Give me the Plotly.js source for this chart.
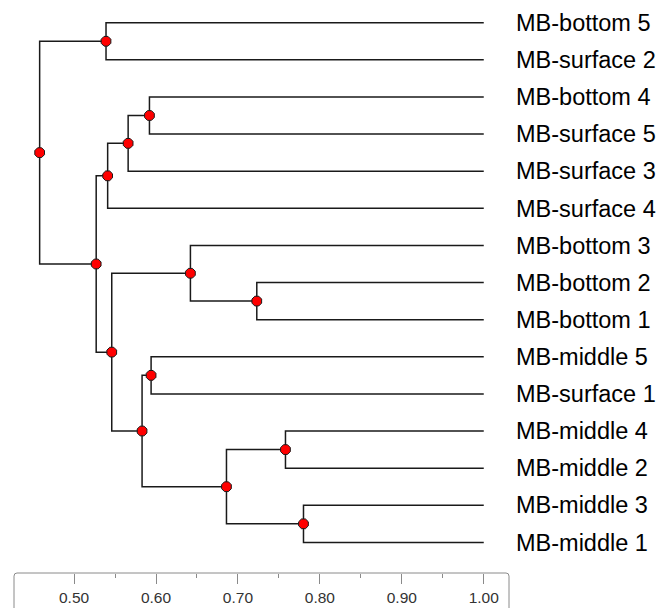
<!DOCTYPE html>
<html>
<head>
<meta charset="utf-8">
<script src="https://cdn.plot.ly/plotly-3.0.1.min.js"></script>
<style>
  html, body { margin: 0; padding: 0; background: #ffffff; }
  #chart { width: 662px; height: 608px; }
</style>
</head>
<body>
<div id="chart"></div>
<script>
// Leaves, top to bottom
const leafLabels = [
  'MB-bottom 5', 'MB-surface 2', 'MB-bottom 4', 'MB-surface 5', 'MB-surface 3',
  'MB-surface 4', 'MB-bottom 3', 'MB-bottom 2', 'MB-bottom 1', 'MB-middle 5',
  'MB-surface 1', 'MB-middle 4', 'MB-middle 2', 'MB-middle 3', 'MB-middle 1'
];
const leafSimilarity = 1.0;

// Merge steps: node 15 + i joins mergeLeft[i] and mergeRight[i] at mergeSimilarity[i]
const mergeLeft       = [0,     2,     16,    17,    7,     6,     9,     11,    13,    22,    21,    20,    18,    15];
const mergeRight      = [1,     3,     4,     5,     8,     19,    10,    12,    14,    23,    24,    25,    26,    27];
const mergeSimilarity = [0.539, 0.592, 0.566, 0.541, 0.723, 0.642, 0.594, 0.758, 0.780, 0.686, 0.583, 0.546, 0.527, 0.458];

// Axis ticks
const majorTicks = [0.50, 0.60, 0.70, 0.80, 0.90, 1.00];
const minorTicks = [0.55, 0.65, 0.75, 0.85, 0.95];

// Node positions: x = similarity, y = leaf row (internal nodes sit midway between children)
const nodeX = [], nodeY = [];
leafLabels.forEach((_, i) => { nodeX.push(leafSimilarity); nodeY.push(i); });
mergeLeft.forEach((a, i) => {
  const b = mergeRight[i];
  nodeX.push(mergeSimilarity[i]);
  nodeY.push((nodeY[a] + nodeY[b]) / 2);
});

// Bracket for every merge
const lx = [], ly = [];
mergeLeft.forEach((a, i) => {
  const b = mergeRight[i];
  const k = leafLabels.length + i;
  lx.push(nodeX[a], nodeX[k], nodeX[k], nodeX[b], null);
  ly.push(nodeY[a], nodeY[a], nodeY[b], nodeY[b], null);
});

const branches = {
  x: lx, y: ly, type: 'scatter', mode: 'lines',
  line: { color: '#1a1a1a', width: 1.5 },
  hoverinfo: 'skip', showlegend: false
};

const nodes = {
  x: nodeX.slice(leafLabels.length),
  y: nodeY.slice(leafLabels.length),
  type: 'scatter', mode: 'markers',
  marker: { symbol: 'octagon', size: 10.5, color: '#ff0000', line: { color: '#1a1a1a', width: 1 } },
  hoverinfo: 'skip', showlegend: false
};

// Frame around the scale: top edge with rounded corners, sides run off the bottom
const rx = 0.006, ry = 0.0055, bottom = -0.08;
const framePath = `M 0,${bottom} L 0,${-ry} Q 0,0 ${rx},0 L ${1 - rx},0 Q 1,0 1,${-ry} L 1,${bottom}`;

const layout = {
  width: 662, height: 608,
  margin: { l: 14, r: 153.3, t: 5, b: 35.3 },
  paper_bgcolor: '#ffffff', plot_bgcolor: '#ffffff',
  font: { family: 'Liberation Sans, Arial, sans-serif', color: '#000000' },
  xaxis: {
    range: [0.4267, 1.0308],
    showgrid: false, zeroline: false, showline: false,
    tickmode: 'array', tickvals: majorTicks, tickformat: '.2f',
    ticks: 'outside', ticklen: 10, tickwidth: 1, tickcolor: '#8a8a8a',
    tickfont: { size: 15.5, color: '#333333', family: 'Liberation Sans, Arial, sans-serif' },
    minor: { tickmode: 'array', tickvals: minorTicks, ticks: 'outside', ticklen: 4, tickwidth: 1, tickcolor: '#8a8a8a', showgrid: false }
  },
  yaxis: {
    range: [14.825, -0.477],
    side: 'right',
    showgrid: false, zeroline: false, showline: false,
    tickmode: 'array', tickvals: leafLabels.map((_, i) => i), ticktext: leafLabels,
    ticks: '', ticklabelstandoff: 6,
    tickfont: { size: 23.5, color: '#000000', family: 'Liberation Sans, Arial, sans-serif' }
  },
  shapes: [{
    type: 'path', xref: 'paper', yref: 'paper', path: framePath,
    line: { color: '#8a8a8a', width: 1 }, layer: 'below'
  }],
  hovermode: false
};

Plotly.newPlot('chart', [branches, nodes], layout, { displayModeBar: false, staticPlot: true });
</script>
</body>
</html>
